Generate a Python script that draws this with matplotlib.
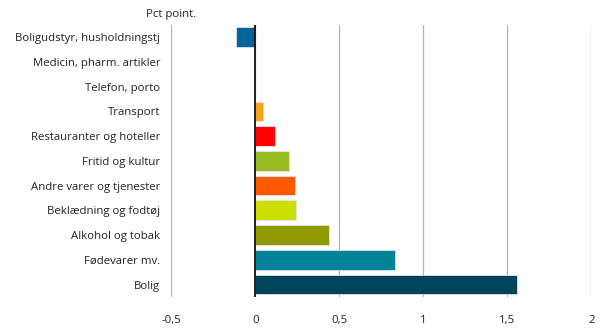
import matplotlib
matplotlib.use('Agg')
import matplotlib.pyplot as plt

# bidrag til inflationen, procentpoint
kategorier = ['Boligudstyr, husholdningstj', 'Medicin, pharm. artikler', 'Telefon, porto',
              'Transport', 'Restauranter og hoteller', 'Fritid og kultur',
              'Andre varer og tjenester', 'Beklædning og fodtøj', 'Alkohol og tobak',
              'Fødevarer mv.', 'Bolig']
bidrag = [-0.115, 0.0, 0.0, 0.045, 0.12, 0.20, 0.235, 0.24, 0.44, 0.83, 1.56]
farver = ['#006699', '#7f7f7f', '#7f7f7f', '#F5A51E', '#FF0000', '#99BB22',
          '#FF5A00', '#CCDD00', '#919B00', '#008299', '#004459']
xticks = [-0.5, 0, 0.5, 1, 1.5, 2]
xticklabels = ['-0,5', '0', '0,5', '1', '1,5', '2']

plt.rcParams['font.family'] = ['Open Sans', 'DejaVu Sans']

fig = plt.figure(figsize=(6.14, 3.31), dpi=100)
ax = fig.add_axes([0.279, 0.103, 0.684, 0.822])

y = list(range(len(kategorier)))
ax.barh(y, bidrag, height=0.8, color=farver, edgecolor='#dde6ea', linewidth=0.6, zorder=3)

ax.set_xlim(-0.5, 2)
ax.set_ylim(len(kategorier) - 0.5, -0.5)
ax.set_xticks(xticks)
ax.set_xticklabels(xticklabels, fontsize=8.2, color='#222222')
ax.set_yticks(y)
ax.set_yticklabels(kategorier, fontsize=8.2, color='#222222')
ax.tick_params(length=0)
ax.tick_params(axis='y', pad=8)
ax.tick_params(axis='x', pad=13)

for s in ax.spines.values():
    s.set_visible(False)
ax.grid(axis='x', color='#b3b3b3', linewidth=0.9, zorder=0)
ax.axvline(0, color='black', linewidth=1.2, zorder=4)

fig.text(0.279, 0.955, 'Pct point.', fontsize=8.2, ha='center', va='center', color='#222222')

fig.savefig('out.png', dpi=100)
